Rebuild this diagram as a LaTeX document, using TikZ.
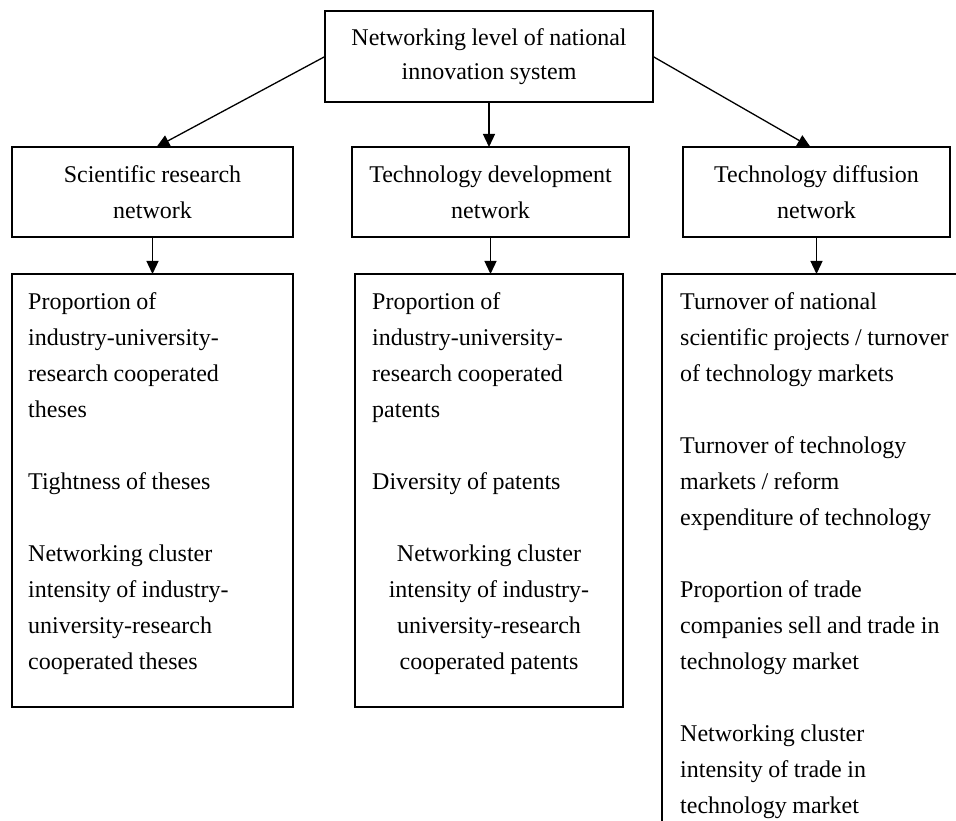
\documentclass[tikz,border=0pt]{standalone}
\usepackage{fontspec}
\setmainfont{Liberation Serif}
\usetikzlibrary{arrows.meta,calc}
\begin{document}
\begin{tikzpicture}[x=1pt,y=-1pt,
  every node/.style={font=\fontsize{24pt}{36pt}\selectfont,
    execute at begin node={\spaceskip=0.23em\relax}},
  boxnode/.style={draw=black,line width=1.8pt,inner sep=0pt,outer sep=0pt},
  headbox/.style={boxnode,align=center},
  para/.style={inner sep=0pt,text width=300pt,align=left,anchor=base west},
  cpara/.style={inner sep=0pt,text width=268pt,align=center,anchor=base},
  arr/.style={line width=1.3pt,-{Triangle[length=13pt,width=12pt]}}]
\useasboundingbox (0,0) rectangle (956,821);
\clip (0,0) rectangle (956,821);
\fill[white] (0,0) rectangle (956,821);

% top box
\node[headbox,minimum width=328pt,minimum height=91pt,
  font=\fontsize{24pt}{34pt}\selectfont] (top) at (489,56.5)
  {Networking level of national\\innovation system};

% second row
\node[headbox,minimum width=281pt,minimum height=90pt] (lu) at (152.5,192)
  {Scientific research\\network};
\node[headbox,minimum width=277pt,minimum height=90pt] (mu) at (490.5,192)
  {Technology development\\network};
\node[headbox,minimum width=267pt,minimum height=90pt] (ru) at (816.5,192)
  {Technology diffusion\\network};

% third row boxes
\node[boxnode,anchor=north west,minimum width=281pt,minimum height=433pt] (ll) at (12,274) {};
\node[boxnode,anchor=north west,minimum width=268pt,minimum height=433pt] (ml) at (355,274) {};
\node[boxnode,anchor=north west,minimum width=330pt,minimum height=600pt] (rl) at (662,274) {};

% connectors
\draw[arr] (top.west) -- ($(lu.north)+(4,0)$);
\draw[arr] (top.south) -- (top.south |- mu.north);
\draw[arr] (top.east) -- ($(ru.north)+(-6,0)$);
\draw[arr] (lu.south) -- (lu.south |- ll.north);
\draw[arr] (mu.south) -- (mu.south |- ml.north);
\draw[arr] (ru.south) -- (ru.south |- rl.north);

% left column texts
\node[para] (l1) at (28,309) {Proportion of\\industry-university-\\research cooperated\\theses};
\node[para] (l2) at (28,489) {Tightness of theses};
\node[para] (l3) at (28,561) {Networking cluster\\intensity of industry-\\university-research\\cooperated theses};

% middle column texts
\node[para] (m1) at (372,309) {Proportion of\\industry-university-\\research cooperated\\patents};
\node[para] (m2) at (372,489) {Diversity of patents};
\node[cpara] (m3) at (489,561) {Networking cluster\\intensity of industry-\\university-research\\cooperated patents};

% right column texts
\node[para] (r1) at (680,309) {Turnover of national\\scientific projects / turnover\\of technology markets};
\node[para] (r2) at (680,453) {Turnover of technology\\markets / reform\\expenditure of technology};
\node[para] (r3) at (680,597) {Proportion of trade\\companies sell and trade in\\technology market};
\node[para] (r4) at (680,741) {Networking cluster\\intensity of trade in\\technology market};
\end{tikzpicture}
\end{document}
